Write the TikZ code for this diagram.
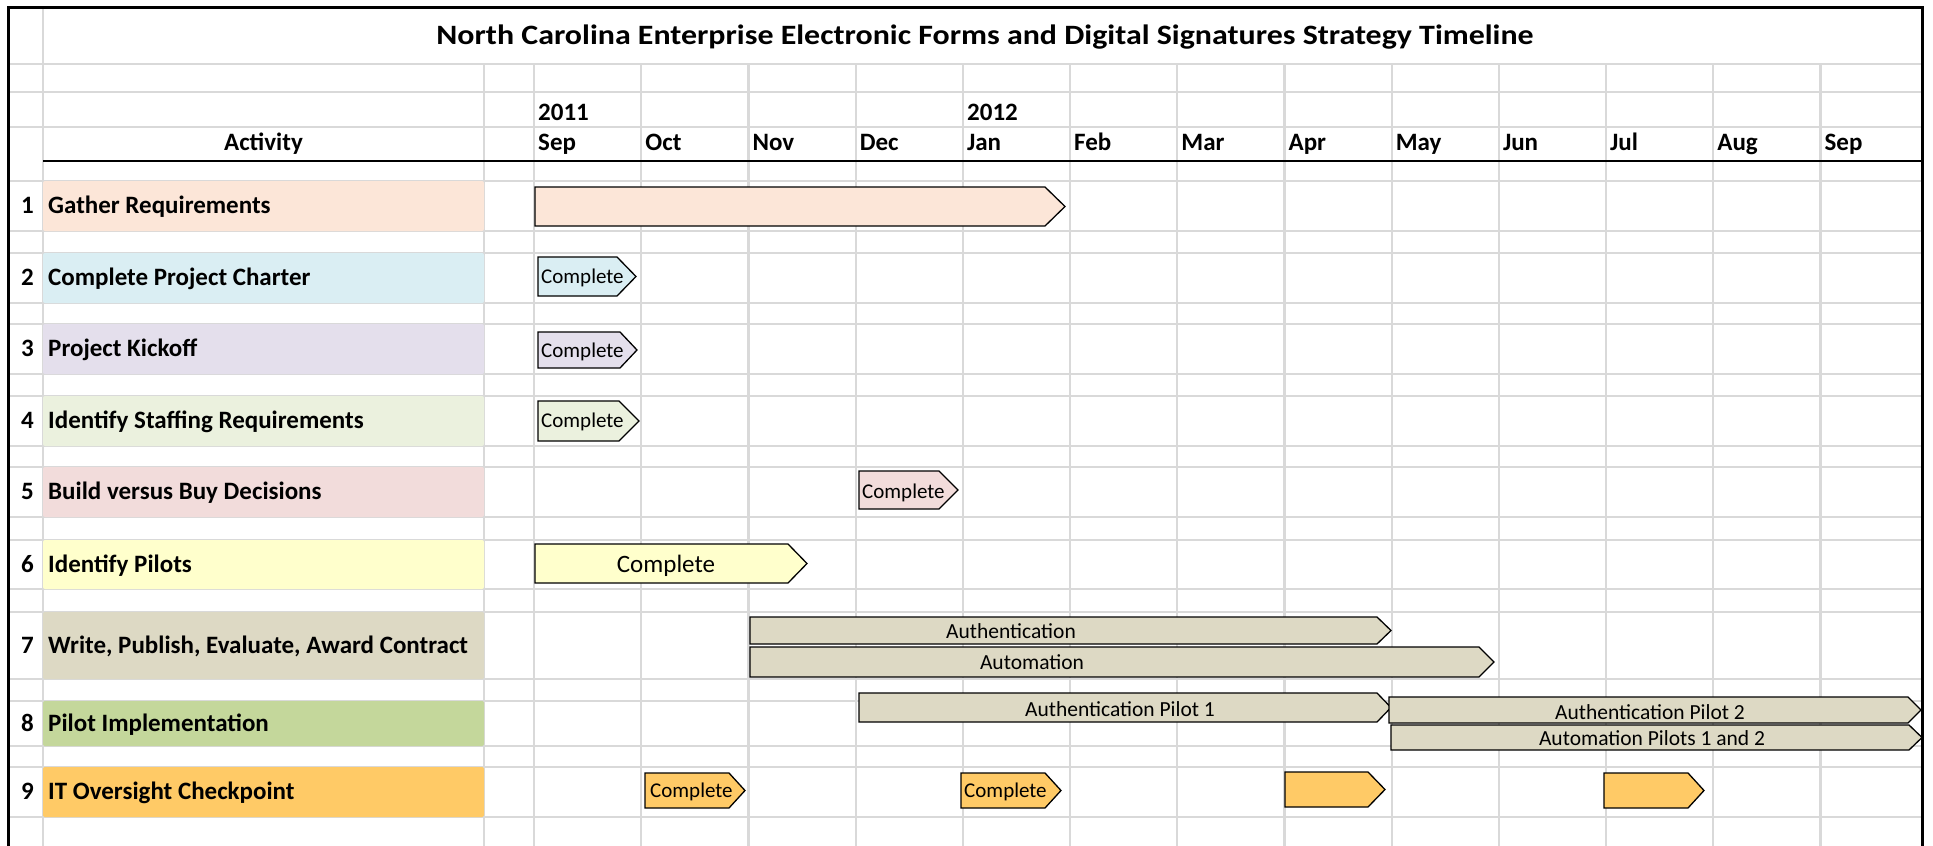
\documentclass[tikz,border=0pt]{standalone}
\usepackage{graphicx}
\usepackage{fontspec}
\setmainfont{Carlito}
\usetikzlibrary{positioning}

\definecolor{gridgray}{HTML}{D9D9D9}
\definecolor{peach}{HTML}{FCE6D8}
\definecolor{paleblue}{HTML}{DAEEF3}
\definecolor{lavender}{HTML}{E4DFEC}
\definecolor{palegreen}{HTML}{EBF1DE}
\definecolor{palepink}{HTML}{F2DCDB}
\definecolor{paleyellow}{HTML}{FFFFCC}
\definecolor{tan}{HTML}{DDD9C4}
\definecolor{olive}{HTML}{C4D79B}
\definecolor{gold}{HTML}{FFCA66}

\begin{document}
\begin{tikzpicture}[x=1pt, y=-1pt,
  gridline/.style={draw=gridgray, line width=2.2pt},
  frameline/.style={draw=black, line width=3pt},
  cell/.style={rounded corners=2pt},
  taskbar/.style={draw=black, line width=1.3pt, line join=miter},
  hdr/.style={anchor=base west, inner sep=0pt, font=\fontsize{25}{30}\selectfont\bfseries},
  rowlabel/.style={anchor=base west, inner sep=0pt, font=\fontsize{25}{30}\selectfont\bfseries},
  rownum/.style={anchor=base, inner sep=0pt, font=\fontsize{25}{30}\selectfont\bfseries},
  donetext/.style={anchor=base west, inner sep=0pt, font=\fontsize{21}{25}\selectfont},
  bartext/.style={anchor=base, inner sep=0pt, font=\fontsize{21.5}{26}\selectfont}]
\useasboundingbox (0,0) rectangle (1933,846);

% Spreadsheet grid
\foreach \y in {64,92,127,181,231,253,303,324,374,396,446,467,517,540,589,612,679,701,746,767,817}
  \draw[gridline] (8,\y) -- (1922,\y);
\draw[gridline] (43,7) -- (43,846);
\draw[gridline] (484,64) -- (484,846);
\foreach \k in {0,...,12}
  \draw[gridline] ({534+107.2*\k},64) -- ({534+107.2*\k},846);

% Frame and header rule
\draw[frameline] (7,7) -- (1923,7);
\draw[frameline] (8,6) -- (8,846);
\draw[frameline] (1922,6) -- (1922,846);
\draw[draw=black, line width=2.6pt] (43,161) -- (1922,161);

% Title and header
\node[anchor=base, inner sep=0pt, font=\fontsize{28}{32}\selectfont\bfseries] (title) at (985,44.5)
  {\scalebox{1.14}[1]{North Carolina Enterprise Electronic Forms and Digital Signatures Strategy Timeline}};
\node[anchor=base, inner sep=0pt, font=\fontsize{25}{30}\selectfont\bfseries] (activity) at (263.5,150) {Activity};
\node[hdr] (y2011) at (538,120) {2011};
\node[hdr] (y2012) at (967,120) {2012};
\foreach \m [count=\k from 0] in {Sep,Oct,Nov,Dec,Jan,Feb,Mar,Apr,May,Jun,Jul,Aug,Sep}
  \node[hdr] (month\k) at ({538+107.2*\k},150) {\m};

% Activity cells
\foreach \t/\b/\c in {181/231/peach, 253/303/paleblue, 324/374/lavender, 396/446/palegreen,
  467/517/palepink, 540/589/paleyellow, 612/679/tan, 701/746/olive, 767/817/gold}
  \fill[\c, cell] (43,\t) rectangle (484,\b);

% Activity labels
\foreach \lbl/\yb [count=\i] in {Gather Requirements/213.5, Complete Project Charter/285,
  Project Kickoff/356.5, Identify Staffing Requirements/428, Build versus Buy Decisions/499.5,
  Identify Pilots/572, {Write, Publish, Evaluate, Award Contract}/653, Pilot Implementation/731,
  IT Oversight Checkpoint/799.5}
{
  \node[rownum] (num\i) at (27.5,\yb) {\i};
  \node[rowlabel] (act\i) at (48,\yb) {\lbl};
}

% Task bars: left / body end / tip / top / bottom / fill
\foreach \l/\e/\p/\u/\d/\c in {535/1045/1065/187/226/peach,
  538/617/636/257/296/paleblue, 538/620/637/332/368/lavender, 538/619/639/401/441/palegreen,
  859/939/958/471/509/palepink, 535/788/807/544/583/paleyellow,
  750/1377/1391/617/644/tan, 750/1479/1494/647/677/tan,
  859/1377/1391/693/722/tan, 1389/1908/1921/697/723/tan, 1391/1909/1922/725/750/tan,
  645/729/745/773/808/gold, 961/1045/1061/773/808/gold,
  1285/1368/1385/772/807/gold, 1604/1688/1704/773/808/gold}
  \draw[taskbar, fill=\c] (\l,\u) -- (\e,\u) -- (\p,{(\u+\d)/2}) -- (\e,\d) -- (\l,\d) -- cycle;

% Bar texts
\node[donetext] (done2) at (541,283) {Complete};
\node[donetext] (done3) at (541,357) {Complete};
\node[donetext] (done4) at (541,427) {Complete};
\node[donetext] (done5) at (862,498) {Complete};
\node[anchor=base, inner sep=0pt, font=\fontsize{25}{30}\selectfont] (done6) at (666,572) {Complete};
\node[bartext] (auth) at (1011,638) {Authentication};
\node[bartext] (auto) at (1032,669) {Automation};
\node[bartext] (pilotA) at (1120,716) {Authentication Pilot 1};
\node[bartext] (pilotB) at (1650,719) {Authentication Pilot 2};
\node[bartext] (pilotC) at (1652,745) {Automation Pilots 1 and 2};
\node[donetext] (check1) at (650,797) {Complete};
\node[donetext] (check2) at (964,797) {Complete};
\end{tikzpicture}
\end{document}
